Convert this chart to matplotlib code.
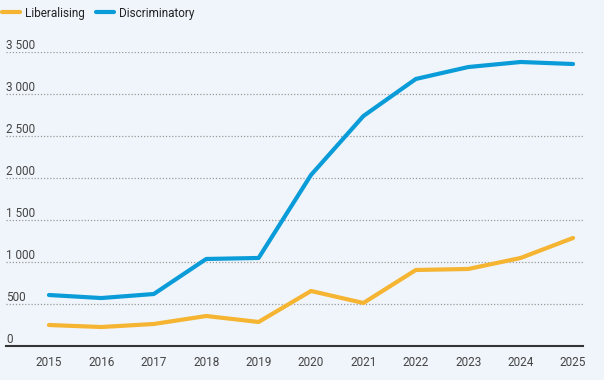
import matplotlib
matplotlib.use("Agg")
import matplotlib.pyplot as plt
from matplotlib import font_manager

years = [2015, 2016, 2017, 2018, 2019, 2020, 2021, 2022, 2023, 2024, 2025]
liberalising = [250, 226, 262, 357, 286, 655, 512, 905, 917, 1048, 1286]
discriminatory = [607, 571, 619, 1036, 1048, 2036, 2738, 3179, 3321, 3381, 3357]
y_ticks = [0, 500, 1000, 1500, 2000, 2500, 3000, 3500]
y_labels = ["0", "500", "1 000", "1 500", "2 000", "2 500", "3 000", "3 500"]

names = {f.name for f in font_manager.fontManager.ttflist}
fam = "Liberation Sans Narrow" if "Liberation Sans Narrow" in names else "Roboto"
plt.rcParams['font.family'] = [fam, 'DejaVu Sans']

bg = "#F0F5FB"
orange = "#F5B431"
blue = "#0A9CD8"
txt = "#444444"

fig = plt.figure(figsize=(6.04, 3.80), dpi=100, facecolor=bg)
ax = fig.add_axes([6/604, 1-346/380, (583-6)/604, (346-52)/380])
ax.set_facecolor(bg)

l1, = ax.plot(years, liberalising, color=orange, lw=3, solid_capstyle='round', solid_joinstyle='round', label="Liberalising")
l2, = ax.plot(years, discriminatory, color=blue, lw=3, solid_capstyle='round', solid_joinstyle='round', label="Discriminatory")

ax.set_xlim(2014.18, 2025.19)
ax.set_ylim(0, 3500)

for v, lab in zip(y_ticks, y_labels):
    if v > 0:
        ax.axhline(v, color="#9a9a9a", lw=0.9, linestyle=(0, (1, 1.5)), zorder=0)
    ax.text(0, v, lab, transform=ax.get_yaxis_transform(), ha='left', va='bottom',
            fontsize=8.5, color=txt, clip_on=False)
    
for s in ['top', 'right', 'left']:
    ax.spines[s].set_visible(False)
ax.spines['bottom'].set_color("#333333")
ax.spines['bottom'].set_linewidth(1.5)
ax.set_yticks([])
ax.set_xticks(years)
ax.set_xticklabels([str(y) for y in years], fontsize=8.5, color=txt)
ax.tick_params(axis='x', length=0, pad=7)

fig.legend(handles=[l1, l2], loc='center left', bbox_to_anchor=(0.0, 1-13/380), ncol=2,
           frameon=False, fontsize=8.5, handlelength=1.5, handletextpad=0.4,
           columnspacing=1.0, borderaxespad=0, borderpad=0.2, labelcolor="#222222")

fig.savefig("out.png", dpi=100, facecolor=bg)
